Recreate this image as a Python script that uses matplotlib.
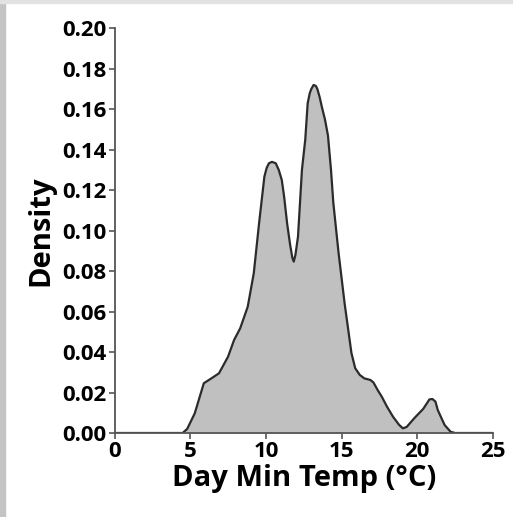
import matplotlib
matplotlib.use("Agg")
from matplotlib import pyplot as plt
from matplotlib.patches import Rectangle

# density curve
temp = [0, 4.5, 4.8, 5.3, 5.9, 6.4, 6.9, 7.5, 7.9, 8.3, 8.8, 9.2, 9.55, 9.9,
        10.05, 10.2, 10.4, 10.65, 10.85, 11.05, 11.2, 11.4, 11.6, 11.75, 11.84,
        11.95, 12.12, 12.38, 12.6, 12.76, 12.9, 13.0, 13.15, 13.3, 13.4, 13.55,
        13.7, 13.9, 14.1, 14.3, 14.45, 14.8, 15.2, 15.65, 15.9, 16.2, 16.5,
        16.9, 17.1, 17.4, 17.65, 18.0, 18.4, 18.8, 19.05, 19.3, 19.8, 20.4,
        20.8, 21.0, 21.2, 21.35, 21.8, 22.2, 22.5, 25]
density = [0, 0, 0.002, 0.0097, 0.0246, 0.027, 0.0295, 0.0377, 0.046, 0.0517,
           0.0624, 0.079, 0.1037, 0.1267, 0.131, 0.1333, 0.134, 0.1333, 0.130,
           0.125, 0.117, 0.1037, 0.093, 0.0865, 0.0847, 0.088, 0.097, 0.130,
           0.145, 0.163, 0.168, 0.170, 0.172, 0.1715, 0.170, 0.166, 0.161,
           0.155, 0.147, 0.130, 0.114, 0.089, 0.064, 0.0395, 0.032, 0.0287,
           0.027, 0.0262, 0.025, 0.021, 0.018, 0.013, 0.008, 0.004, 0.0023,
           0.003, 0.0073, 0.012, 0.0166, 0.0168, 0.0155, 0.0114, 0.004, 0.0006,
           0, 0]

xticks = [0, 5, 10, 15, 20, 25]
yticks = [0.00, 0.02, 0.04, 0.06, 0.08, 0.10, 0.12, 0.14, 0.16, 0.18, 0.20]

plt.rcParams['font.family'] = ['Open Sans', 'DejaVu Sans']

fig = plt.figure(figsize=(5.13, 5.17), dpi=100)
# light grey frame of the screenshot
fig.patches.append(Rectangle((0, 0), 5 / 513, 1, transform=fig.transFigure,
                             color='#c4c4c4', zorder=0))
fig.patches.append(Rectangle((0, 1 - 3 / 517), 1, 3 / 517, transform=fig.transFigure,
                             color='#e2e2e2', zorder=0))

ax = fig.add_axes([114.5 / 513, 84 / 517, 378.5 / 513, 404.7 / 517])
ax.fill_between(temp, density, color='#c0c0c0', lw=0)
ax.plot(temp, density, color='#2b2b2b', lw=1.6, solid_joinstyle='round')

ax.set_xlim(0, 25)
ax.set_ylim(0, 0.20)
ax.set_xticks(xticks)
ax.set_yticks(yticks)
ax.set_yticklabels([f"{v:.2f}" for v in yticks])
for s in ['top', 'right']:
    ax.spines[s].set_visible(False)
for s in ['left', 'bottom']:
    ax.spines[s].set_color('#555555')
    ax.spines[s].set_linewidth(1.3)
ax.tick_params(direction='out', length=4, width=1.2, color='#555555',
               labelsize=16, pad=1.5)
for lab in ax.get_xticklabels() + ax.get_yticklabels():
    lab.set_fontweight('bold')

ax.set_xlabel('Day Min Temp (°C)', fontsize=21, fontweight='bold', labelpad=1.5)
ax.set_ylabel('Density', fontsize=21, fontweight='bold', labelpad=5)

fig.savefig('out.png', dpi=100)
